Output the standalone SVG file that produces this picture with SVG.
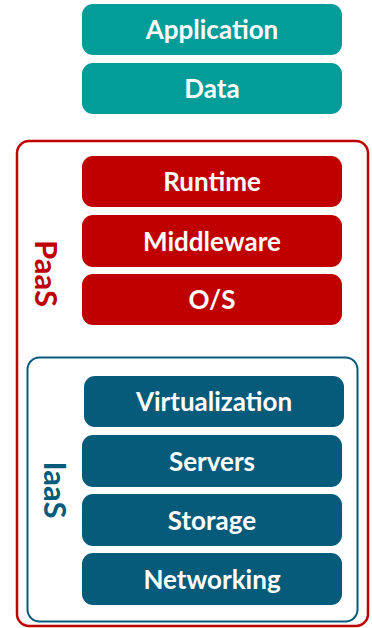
<svg xmlns="http://www.w3.org/2000/svg" width="372" height="628" viewBox="0 0 372 628">
<style>
.t{font-family:Lato,"Open Sans","Liberation Sans",sans-serif;font-weight:bold;font-size:26px;fill:#fff;text-anchor:middle}
.teal{fill:#029C99}
.red{fill:#C00000}
.blue{fill:#065A7A}
.lbl{font-family:Lato,"Open Sans","Liberation Sans",sans-serif;font-weight:bold;font-size:31px;text-anchor:middle}
</style>
<rect width="372" height="628" fill="#fff"/>
<g id="paas">
<rect x="17" y="141" width="351" height="485" rx="12" fill="none" stroke="#C00000" stroke-width="2.5"/>
<text class="lbl" fill="#C00000" transform="translate(35,273.5) rotate(90)">PaaS</text>
</g>
<g id="iaas">
<rect x="27.5" y="357.5" width="330" height="264" rx="12" fill="none" stroke="#065A7A" stroke-width="2"/>
<text class="lbl" fill="#065A7A" transform="translate(44,490) rotate(90)">IaaS</text>
</g>
<g id="application"><rect class="teal" x="82" y="4" width="260" height="51" rx="11"/><text class="t" x="212" y="39">Application</text></g>
<g id="data"><rect class="teal" x="82" y="63" width="260" height="51" rx="11"/><text class="t" x="212" y="98">Data</text></g>
<g id="runtime"><rect class="red" x="82" y="156" width="260" height="51" rx="11"/><text class="t" x="212" y="191">Runtime</text></g>
<g id="middleware"><rect class="red" x="82" y="215" width="260" height="52" rx="11"/><text class="t" x="212" y="250.5">Middleware</text></g>
<g id="os"><rect class="red" x="82" y="274" width="260" height="51" rx="11"/><text class="t" x="212" y="309">O/S</text></g>
<g id="virtualization"><rect class="blue" x="84" y="376" width="260" height="51" rx="11"/><text class="t" x="214" y="411">Virtualization</text></g>
<g id="servers"><rect class="blue" x="82" y="435" width="260" height="52" rx="11"/><text class="t" x="212" y="470.5">Servers</text></g>
<g id="storage"><rect class="blue" x="82" y="494" width="260" height="52" rx="11"/><text class="t" x="212" y="529.5">Storage</text></g>
<g id="networking"><rect class="blue" x="82" y="553" width="260" height="52" rx="11"/><text class="t" x="212" y="588.5">Networking</text></g>
<g id="connectors"/>
</svg>
